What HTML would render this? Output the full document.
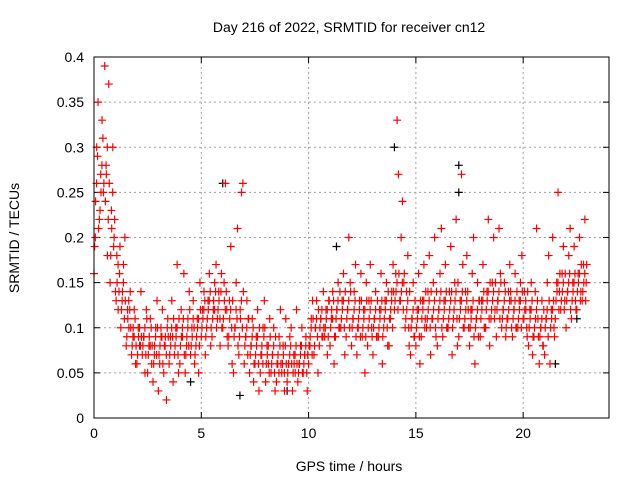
<!DOCTYPE html>
<html><head><meta charset="utf-8"><style>
html,body{margin:0;padding:0;background:#fff;}
svg{display:block;font-family:"Liberation Sans",sans-serif;}
</style></head><body>
<svg id="chart" width="640" height="480" viewBox="0 0 640 480">
<text x="349" y="32" text-anchor="middle" font-size="14">Day 216 of 2022, SRMTID for receiver cn12</text>
<text x="349" y="471" text-anchor="middle" font-size="14">GPS time / hours</text>
<text transform="translate(19,238) rotate(-90)" text-anchor="middle" font-size="14">SRMTID / TECUs</text>
<g id="grid"></g>
<g id="ticks"></g>
<g id="black"></g>
<g id="red"></g>
<rect x="94" y="57" width="515" height="361" fill="none" stroke="#000" stroke-width="1"/>
</svg>
<script>
const xTicks=[0,5,10,15,20];
const yTicks=[0,0.05,0.1,0.15,0.2,0.25,0.3,0.35,0.4];
const yTickLabels=["0","0.05","0.1","0.15","0.2","0.25","0.3","0.35","0.4"];
const binTimes=[0,0.25,0.5,0.75,1,1.25,1.5,1.75,2,2.25,2.5,2.75,3,3.25,3.5,3.75,4,4.25,4.5,4.75,5,5.25,5.5,5.75,6,6.25,6.5,6.75,7,7.25,7.5,7.75,8,8.25,8.5,8.75,9,9.25,9.5,9.75,10,10.25,10.5,10.75,11,11.25,11.5,11.75,12,12.25,12.5,12.75,13,13.25,13.5,13.75,14,14.25,14.5,14.75,15,15.25,15.5,15.75,16,16.25,16.5,16.75,17,17.25,17.5,17.75,18,18.25,18.5,18.75,19,19.25,19.5,19.75,20,20.25,20.5,20.75,21,21.25,21.5,21.75,22,22.25,22.5,22.75];
const redValues=[
[.16,.20,.30,.35],[.22,.27,.33,.25],[.39,.28,.18,.37],[.15,.23,.30,.20],[.14,.18,.12,.16],[.10,.13,.17,.20],
[.08,.12,.10,.14],[.07,.09,.12,.06],[.06,.10,.08,.14],[.07,.09,.05,.12],[.05,.08,.11,.06],[.04,.07,.10,.13],
[.03,.06,.09,.12],[.05,.08,.02,.11],[.06,.09,.13,.04],[.07,.10,.17,.05],[.06,.12,.09,.16],[.05,.08,.11,.14],
[.07,.10,.13,.06],[.08,.11,.05,.15],[.09,.12,.14,.07],[.10,.13,.16,.08],[.09,.12,.15,.17],[.11,.14,.08,.16],
[.10,.15,.26,.12],[.08,.13,.19,.06],[.05,.10,.15,.21],[.07,.12,.25,.26],[.06,.09,.13,.11],[.05,.08,.11,.04],
[.06,.09,.12,.03],[.05,.07,.10,.13],[.04,.08,.06,.11],[.05,.07,.10,.03],[.04,.06,.09,.12],[.05,.08,.03,.11],
[.04,.06,.09,.10],[.03,.07,.05,.12],[.04,.06,.08,.10],[.05,.07,.09,.03],[.06,.08,.11,.13],[.07,.10,.13,.05],
[.08,.11,.09,.14],[.09,.12,.07,.13],[.08,.11,.14,.06],[.09,.12,.15,.10],[.10,.13,.16,.07],[.09,.12,.20,.15],
[.08,.11,.14,.17],[.07,.10,.13,.16],[.09,.12,.05,.15],[.08,.13,.17,.10],[.07,.11,.14,.09],[.09,.12,.16,.06],
[.10,.13,.15,.08],[.08,.11,.14,.17],[.12,.16,.33,.27],[.13,.20,.24,.15],[.10,.14,.18,.08],[.07,.11,.15,.09],
[.08,.12,.16,.06],[.09,.13,.17,.11],[.10,.14,.18,.07],[.11,.15,.20,.09],[.08,.12,.16,.21],[.09,.13,.17,.10],
[.10,.14,.19,.07],[.11,.15,.22,.08],[.09,.13,.27,.17],[.10,.14,.18,.12],[.08,.12,.16,.20],[.06,.11,.15,.13],
[.09,.13,.17,.10],[.10,.14,.22,.08],[.11,.15,.20,.12],[.09,.13,.21,.16],[.10,.12,.15,.09],[.11,.14,.17,.13],
[.09,.12,.16,.10],[.10,.13,.15,.18],[.11,.14,.12,.09],[.08,.12,.15,.07],[.09,.14,.21,.11],[.06,.10,.13,.08],
[.07,.11,.15,.18],[.06,.12,.20,.10],[.11,.15,.25,.14],[.12,.16,.19,.13],[.10,.14,.18,.21],[.11,.15,.19,.13],
[.12,.16,.20,.14],[.13,.17,.22,.15]];
const redValues2=[
[.19,.24,.26,.29,.21],[.23,.25,.28,.31,.26],[.24,.27,.30,.22,.26],[.18,.21,.25,.19,.22],[.13,.15,.17,.14,.19],[.12,.14,.15,.11,.13],
[.09,.11,.13,.12,.10],[.08,.10,.09,.11,.08],[.07,.09,.10,.08,.09],[.08,.09,.10,.07,.11],[.07,.09,.08,.10,.08],[.06,.08,.09,.07,.10],
[.07,.08,.10,.09,.06],[.08,.09,.07,.10,.09],[.07,.08,.10,.09,.11],[.08,.09,.10,.07,.11],[.08,.09,.10,.11,.07],[.07,.09,.10,.08,.12],
[.08,.09,.11,.10,.07],[.09,.10,.11,.08,.12],[.10,.11,.12,.13,.09],[.11,.12,.13,.14,.10],[.11,.13,.12,.14,.10],[.12,.13,.11,.14,.10],
[.11,.13,.12,.14,.09],[.09,.11,.12,.10,.13],[.09,.10,.12,.11,.08],[.09,.11,.13,.10,.14],[.08,.09,.10,.07,.11],[.07,.08,.09,.10,.06],
[.07,.08,.09,.06,.10],[.07,.08,.06,.09,.10],[.06,.07,.08,.05,.09],[.06,.07,.08,.05,.09],[.06,.07,.05,.08,.06],[.06,.07,.05,.08,.06],
[.05,.06,.07,.08,.06],[.05,.06,.07,.08,.06],[.05,.06,.07,.08,.05],[.06,.07,.08,.05,.07],[.08,.09,.10,.07,.11],[.08,.10,.11,.09,.12],
[.10,.11,.12,.09,.10],[.10,.11,.12,.09,.13],[.10,.12,.11,.13,.09],[.11,.12,.13,.10,.14],[.11,.12,.13,.10,.14],[.11,.12,.13,.10,.14],
[.10,.11,.12,.13,.09],[.10,.11,.12,.09,.13],[.10,.11,.12,.09,.13],[.10,.11,.12,.13,.09],[.10,.11,.12,.09,.13],[.10,.11,.12,.13,.09],
[.11,.12,.13,.10,.14],[.11,.12,.13,.10,.14],[.13,.14,.15,.12,.16],[.13,.14,.15,.12,.16],[.11,.12,.13,.10,.14],[.10,.11,.12,.09,.13],
[.10,.11,.12,.09,.13],[.11,.12,.13,.10,.14],[.11,.12,.13,.10,.14],[.11,.12,.13,.10,.14],[.11,.12,.13,.14,.10],[.11,.12,.13,.14,.10],
[.11,.12,.13,.14,.10],[.12,.13,.14,.11,.15],[.11,.12,.13,.14,.10],[.11,.12,.13,.14,.10],[.10,.11,.12,.13,.09],[.10,.11,.12,.09,.13],
[.11,.12,.13,.14,.10],[.12,.13,.14,.11,.15],[.12,.13,.14,.11,.15],[.12,.13,.14,.11,.15],[.11,.12,.13,.14,.10],[.11,.12,.13,.14,.10],
[.11,.12,.13,.10,.14],[.11,.12,.13,.10,.14],[.11,.12,.13,.10,.14],[.10,.11,.12,.13,.09],[.10,.11,.12,.13,.09],[.09,.10,.11,.08,.12],
[.10,.11,.12,.09,.13],[.10,.11,.12,.13,.09],[.13,.14,.15,.12,.16],[.13,.14,.15,.12,.16],[.13,.14,.15,.16,.12],[.13,.14,.15,.16,.12],
[.14,.15,.16,.13,.17],[.14,.15,.16,.13,.17]];
const blackTimes=[6.0,17.0,17.0,14.0,6.8,4.5,11.3,21.5,22.5,9.0];
const blackValues=[.26,.25,.28,.30,.025,.04,.19,.06,.11,.03];

const L=94,R=609,T=57,B=418,XMAX=24,YMAX=0.4;
const xs=v=>L+(R-L)*v/XMAX;
const ys=v=>B-(B-T)*v/YMAX;
const NS="http://www.w3.org/2000/svg";
function mk(tag,attrs,parent){const e=document.createElementNS(NS,tag);for(const k in attrs)e.setAttribute(k,attrs[k]);parent.appendChild(e);return e;}
const grid=document.getElementById('grid'),ticks=document.getElementById('ticks');
xTicks.forEach(t=>{
  const x=xs(t);
  if(t>0){const g=mk('line',{x1:x,x2:x,y1:T,y2:B,stroke:'#a0a0a0','stroke-dasharray':'2,3'},grid);
  
  }
  mk('line',{x1:x,x2:x,y1:B,y2:B-6,stroke:'#000'},ticks);
  mk('line',{x1:x,x2:x,y1:T,y2:T+6,stroke:'#000'},ticks);
  const tx=mk('text',{x:x,y:B+20,'text-anchor':'middle','font-size':'14'},ticks);
  tx.textContent=String(t);
  
  
});
yTicks.forEach((t,i)=>{
  const y=ys(t);
  if(i>0&&i<yTicks.length-1){const g=mk('line',{x1:L,x2:R,y1:y,y2:y,stroke:'#a0a0a0','stroke-dasharray':'2,3'},grid);
  
  }
  mk('line',{x1:L,x2:L+6,y1:y,y2:y,stroke:'#000'},ticks);
  mk('line',{x1:R,x2:R-6,y1:y,y2:y,stroke:'#000'},ticks);
  const tx=mk('text',{x:L-10,y:y+5,'text-anchor':'end','font-size':'14'},ticks);
  tx.textContent=yTickLabels[i];
  
  
});
function plus(g,t,v,color){
  const x=xs(t),y=ys(v);
  const p=mk('path',{d:`M${x-4},${y}h8M${x},${y-4}v8`,stroke:color,'stroke-width':'1.2',fill:'none'},g);
  
  
}
const blackG=document.getElementById('black'),redG=document.getElementById('red');
blackTimes.forEach((t,i)=>plus(blackG,t,blackValues[i],'#000'));
binTimes.forEach((t,i)=>redValues[i].forEach((v,k)=>plus(redG,t+k*0.0625,v,'#f00')));
binTimes.forEach((t,i)=>redValues2[i].forEach((v,k)=>plus(redG,t+0.03+k*0.045,v,'#f00')));
</script>
</body></html>
